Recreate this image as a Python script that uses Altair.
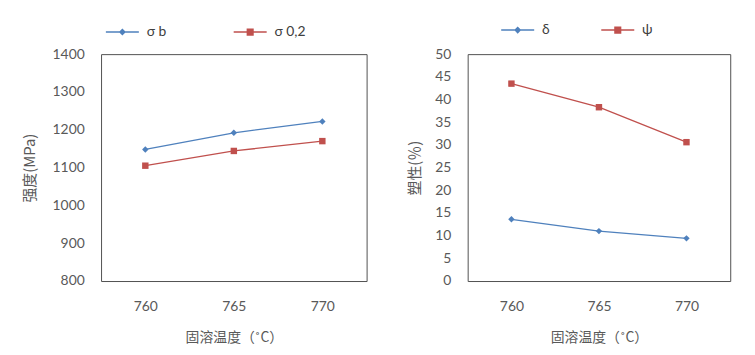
import altair as alt
import pandas as pd

# ---------------- data ----------------
temps = ["760", "765", "770"]

strength_series = ["σ b", "σ 0,2"]
sigma_b = [1148, 1192, 1222]
sigma_02 = [1105, 1144, 1170]

plastic_series = ["δ", "ψ"]
delta = [13.6, 11.0, 9.4]
psi = [43.5, 38.3, 30.6]

strength_ticks = [800, 900, 1000, 1100, 1200, 1300, 1400]
plastic_ticks = [0, 5, 10, 15, 20, 25, 30, 35, 40, 45, 50]

# ---------------- styles ----------------
BLUE = "#4F81BD"
RED = "#C0504D"
NUM_FONT = "Lato, 'DejaVu Sans', sans-serif"
CJK_FONT = "'Noto Sans CJK SC', Lato, sans-serif"
TXT = "#595959"

# legend symbols: a line segment with a marker in the middle (drawn with strokes)
DIAMOND_PATH = ("M-1,0H1M0,-0.15L0.15,0L0,0.15L-0.15,0Z"
                "M0,-0.075L0.075,0L0,0.075L-0.075,0Z")
SQUARE_PATH = ("M-1,0H1M-0.17,-0.17H0.17V0.17H-0.17Z"
               "M-0.17,-0.085H0.17M-0.17,0.085H0.17")


def long_frame(series_names, values_list):
    rows = []
    for name, vals in zip(series_names, values_list):
        for t, v in zip(temps, vals):
            rows.append({"temp": t, "series": name, "value": v})
    return pd.DataFrame(rows)


def panel(df, series_names, ytitle, ydomain, yticks, w, h,
          legend_x, legend_y, col_pad, title_pad):
    x = alt.X("temp:O", sort=temps,
              scale=alt.Scale(type="point", padding=0.5),
              axis=alt.Axis(title="固溶温度（˚C）", labelAngle=0, domain=False,
                            ticks=False, grid=False, labelPadding=19,
                            labelFont=NUM_FONT, labelFontSize=14,
                            labelColor=TXT, titleFont=CJK_FONT,
                            titleFontSize=14, titleFontWeight="normal",
                            titleColor=TXT, titlePadding=17))
    y = alt.Y("value:Q",
              scale=alt.Scale(domain=ydomain, nice=False, zero=False),
              axis=alt.Axis(title=ytitle, values=yticks, format="d",
                            domain=False, ticks=False, grid=False,
                            labelPadding=17, labelFont=NUM_FONT,
                            labelFontSize=14, labelColor=TXT,
                            titleFont=CJK_FONT, titleFontSize=15,
                            titleFontWeight="normal", titleColor=TXT,
                            titlePadding=title_pad))
    base = alt.Chart(df).encode(x=x, y=y)
    layers = []
    for name, color, shape, size in zip(series_names, [BLUE, RED],
                                        ["diamond", "square"], [42, 42]):
        sub = base.transform_filter(alt.datum.series == name)
        layers.append(sub.mark_line(color=color, strokeWidth=1.3))
        layers.append(sub.mark_point(shape=shape, filled=True, size=size,
                                     color=color, opacity=1))
    leg = alt.Legend(title=None, orient="none", legendX=legend_x,
                     legendY=legend_y, direction="horizontal",
                     symbolSize=1109, symbolStrokeWidth=1.5,
                     labelFont=NUM_FONT, labelFontSize=14,
                     labelColor="#404040", labelOffset=7,
                     columnPadding=col_pad, padding=0)
    legend_layer = base.transform_filter("false").mark_point(
        filled=False, strokeWidth=1.5, opacity=1).encode(
        color=alt.Color("series:N",
                        scale=alt.Scale(domain=series_names,
                                        range=[BLUE, RED]), legend=leg),
        shape=alt.Shape("series:N",
                        scale=alt.Scale(domain=series_names,
                                        range=[DIAMOND_PATH, SQUARE_PATH]),
                        legend=leg))
    return alt.layer(*layers, legend_layer).properties(width=w, height=h)


left = panel(long_frame(strength_series, [sigma_b, sigma_02]),
             strength_series, "强度(MPa)", [800, 1400], strength_ticks,
             268, 229, 4, -40, 64, 15)
right = panel(long_frame(plastic_series, [delta, psi]),
              plastic_series, "塑性(％)", [0, 50], plastic_ticks,
              265, 229, 33, -42, 48, 12)

chart = alt.hconcat(left, right, spacing=40).resolve_scale(
    x="independent", y="independent", color="independent",
    shape="independent").resolve_legend(
    color="independent", shape="independent").properties(
    padding={"left": 22, "top": 10, "right": 24, "bottom": 6},
    background="white").configure_view(stroke="#505050", strokeWidth=1)

chart.save("out.html", embed_options={"renderer": "svg", "actions": False})
